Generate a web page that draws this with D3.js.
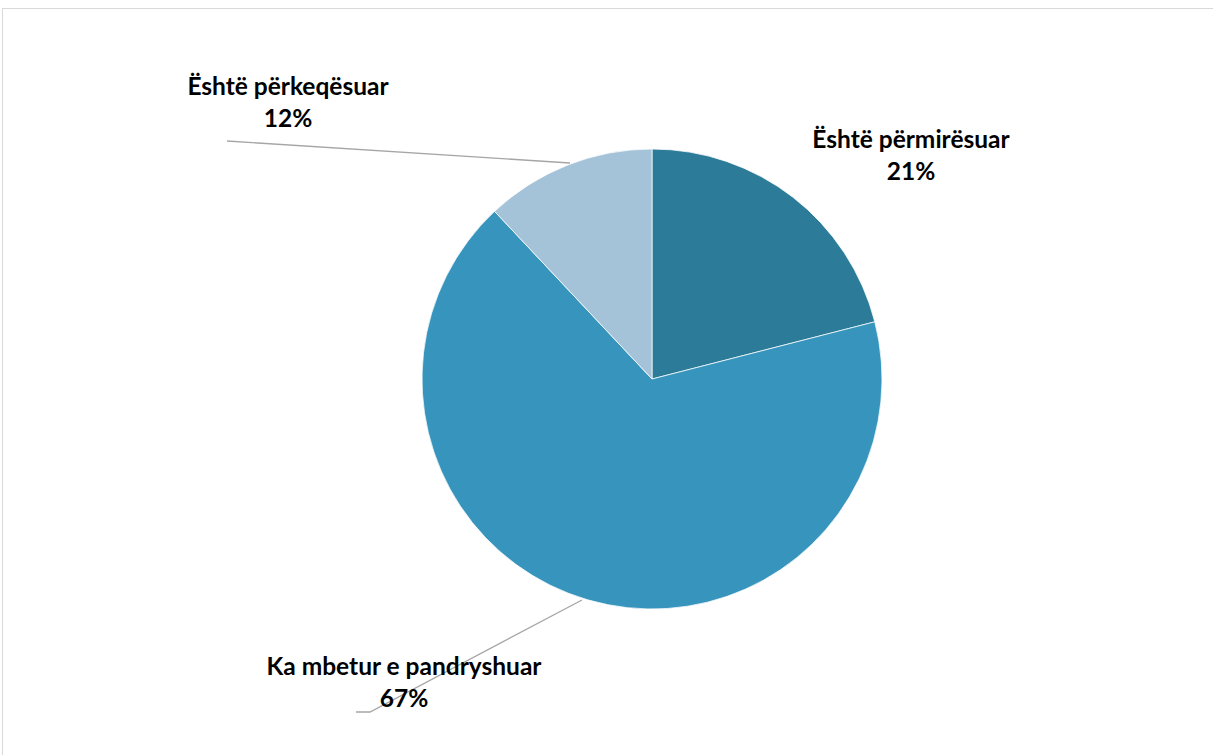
<!DOCTYPE html>
<html lang="en">
<head>
  <meta charset="UTF-8">
  <script src="https://cdnjs.cloudflare.com/ajax/libs/d3/7.8.5/d3.min.js"></script>
  <title>Pie chart</title>
  <style>
    body { margin: 0; background: #fff; }
    text { font-family: Lato, "Open Sans", sans-serif; font-weight: bold; fill: #000; }
  </style>
</head>
<body>
  <div id="chart"></div>
  <script>
    const categories = ['Është përmirësuar', 'Ka mbetur e pandryshuar', 'Është përkeqësuar'];
    const values = [21, 67, 12];
    const colors = ['#2b7b99', '#3795bd', '#a4c3d8'];

    const width = 1213, height = 755;
    const cx = 652, cy = 379, radius = 230;

    // label anchor points (label centre, first line baseline) + leader line paths
    const labelPos = [
      { x: 911, y: 148, line: null },
      { x: 404, y: 675, line: [[582, 600], [370, 712], [356, 712]] },
      { x: 288, y: 95, line: [[570, 163], [227, 141]] }
    ];

    const svg = d3.select('#chart')
      .append('svg')
      .attr('width', width)
      .attr('height', height);

    svg.append('rect')
      .attr('x', 2.5).attr('y', 8.5)
      .attr('width', width).attr('height', height)
      .attr('fill', 'none')
      .attr('stroke', '#d9d9d9');

    const pie = d3.pie().sort(null).value(d => d);
    const arc = d3.arc().innerRadius(0).outerRadius(radius);

    const g = svg.append('g').attr('transform', `translate(${cx}, ${cy})`);

    g.selectAll('path')
      .data(pie(values))
      .enter()
      .append('path')
      .attr('d', arc)
      .attr('fill', (d, i) => colors[i])
      .attr('stroke', '#fff')
      .attr('stroke-width', 0.75);

    const line = d3.line();
    labelPos.forEach((p, i) => {
      if (p.line) {
        svg.append('path')
          .attr('d', line(p.line))
          .attr('fill', 'none')
          .attr('stroke', '#a6a6a6')
          .attr('stroke-width', 1.3);
      }
      const t = svg.append('text')
        .attr('text-anchor', 'middle')
        .style('font-size', '24.5px');
      t.append('tspan').attr('x', p.x).attr('y', p.y).text(categories[i]);
      t.append('tspan').attr('x', p.x).attr('y', p.y + 32).text(values[i] + '%');
    });
  </script>
</body>
</html>
